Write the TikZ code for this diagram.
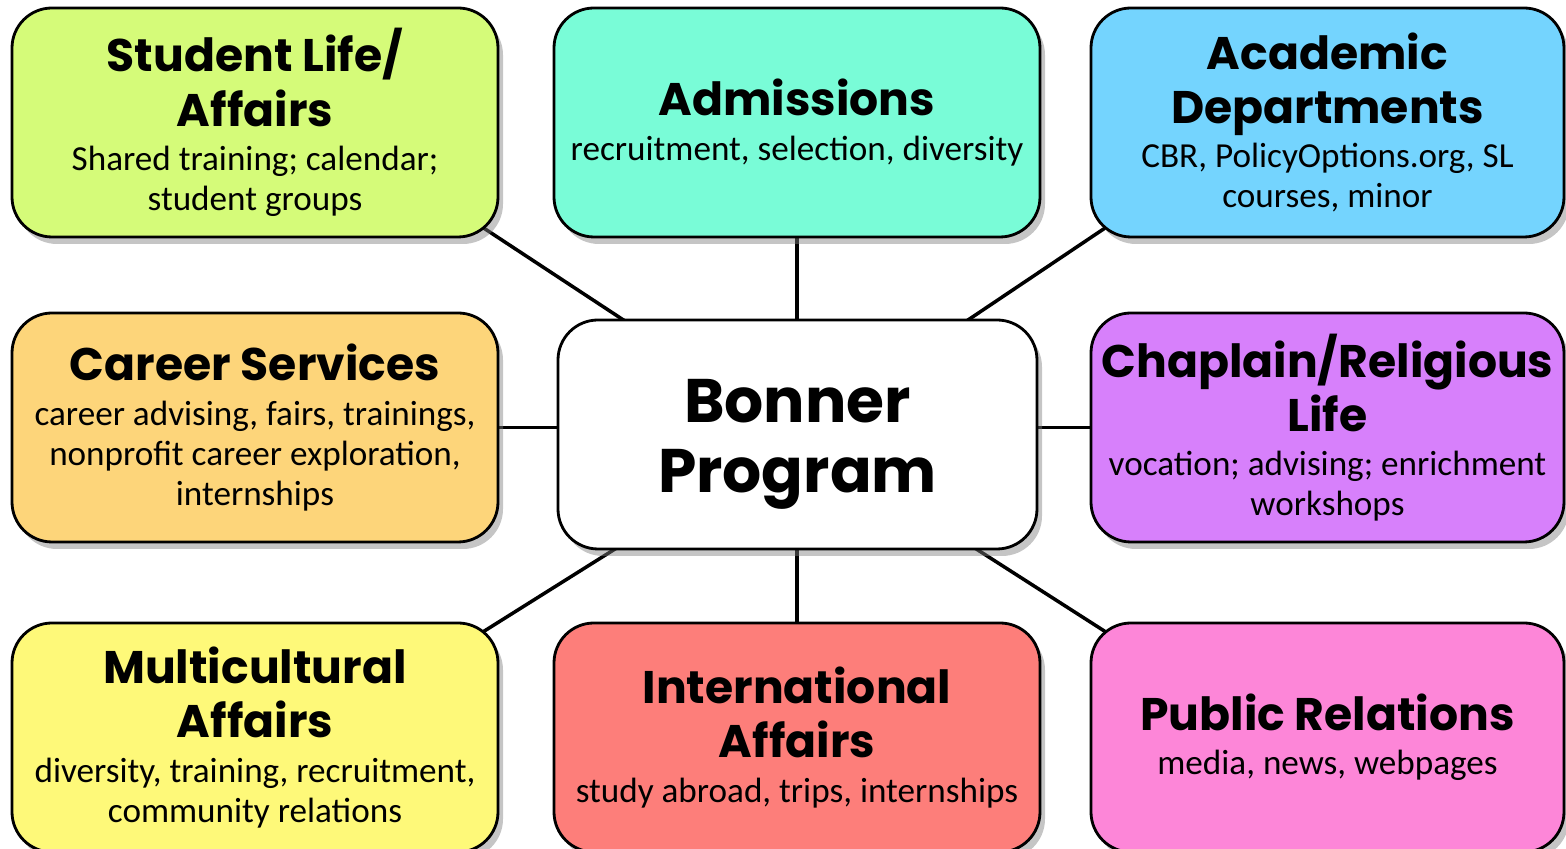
\documentclass[tikz,border=0pt]{standalone}
\usepackage{fontspec}
\usepackage{tikz}
\usetikzlibrary{shadows,backgrounds,calc}
\newfontfamily\headfont{Poppins}
\newfontfamily\bodyfont{Carlito}
\definecolor{studentgreen}{HTML}{D5FB79}
\definecolor{admitaqua}{HTML}{79FCD7}
\definecolor{academicblue}{HTML}{74D4FE}
\definecolor{careerorange}{HTML}{FDD57A}
\definecolor{chaplainviolet}{HTML}{D780FB}
\definecolor{multiyellow}{HTML}{FEF979}
\definecolor{intlred}{HTML}{FD7E7A}
\definecolor{prpink}{HTML}{FD86D8}
\newcommand{\boxtitle}[1]{{\headfont\bfseries\fontsize{13}{15.4}\selectfont #1\par}\vspace{1.2pt}}

\begin{document}
\begin{tikzpicture}[
    shell/.style={draw=black, line width=0.8pt, rounded corners=0.4cm,
        minimum width=4.86cm, minimum height=2.29cm, inner sep=0pt,
        drop shadow={shadow xshift=0.5mm, shadow yshift=-0.7mm, opacity=0.45}},
    unitbox/.style={shell, text width=4.7cm, align=flush center,
        font=\bodyfont\fontsize{10}{11.4}\selectfont},
    rightbox/.style={unitbox, minimum width=4.73cm},
    hubtext/.style={align=center, inner sep=0pt,
        font=\headfont\bfseries\fontsize{17.5}{20}\selectfont},
    link/.style={black, line width=1pt}]
    \useasboundingbox (0,0) rectangle (15.66,8.49);
    \clip (0,0) rectangle (15.66,8.49);

    % Top row
    \node[unitbox, fill=studentgreen] (slife) at (2.55,7.265)
        {\boxtitle{Student Life/\\Affairs}Shared training; calendar;\\student groups};
    \node[unitbox, fill=admitaqua] (admit) at (7.97,7.265)
        {\boxtitle{Admissions}recruitment, selection, diversity};
    \node[rightbox, fill=academicblue] (academic) at (13.275,7.265)
        {\boxtitle{Academic\\Departments}CBR, PolicyOptions.org, SL\\courses, minor};

    % Middle row
    \node[unitbox, fill=careerorange] (career) at (2.55,4.215)
        {\boxtitle{Career Services}career advising, fairs, trainings,\\nonprofit career exploration,\\internships};
    \node[shell, fill=white, minimum width=4.79cm] (bonner) at (7.975,4.145) {};
    \node[hubtext] (bonnerlabel) at ([yshift=-0.1cm]bonner.center) {Bonner\\Program};
    \node[rightbox, fill=chaplainviolet] (chaplain) at (13.275,4.215)
        {\boxtitle{Chaplain/Religious\\Life}vocation; advising; enrichment\\workshops};

    % Bottom row
    \node[unitbox, fill=multiyellow] (multi) at (2.55,1.115)
        {\boxtitle{Multicultural\\Affairs}diversity, training, recruitment,\\community relations};
    \node[unitbox, fill=intlred] (intl) at (7.97,1.115)
        {\boxtitle{International\\Affairs}study abroad, trips, internships};
    \node[rightbox, fill=prpink] (pr) at (13.275,1.115)
        {\boxtitle{Public Relations}media, news, webpages};

    % Links behind the boxes
    \begin{scope}[on background layer]
        \fill[white] (0,0) rectangle (15.66,8.49);
        \draw[link] (bonner.center) -- ($(bonner.center)!1.15!(slife.south east)$);
        \draw[link] (bonner.center -| admit.center) -- (admit.center);
        \draw[link] (bonner.center) -- ($(bonner.center)!1.15!(academic.south west)$);
        \draw[link] (career.center) -- (career.center -| bonner.center);
        \draw[link] (chaplain.center) -- (chaplain.center -| bonner.center);
        \draw[link] (bonner.center) -- ($(bonner.center)!1.15!(multi.north east)$);
        \draw[link] (bonner.center -| intl.center) -- (intl.center);
        \draw[link] (bonner.center) -- ($(bonner.center)!1.15!(pr.north west)$);
    \end{scope}
\end{tikzpicture}
\end{document}
